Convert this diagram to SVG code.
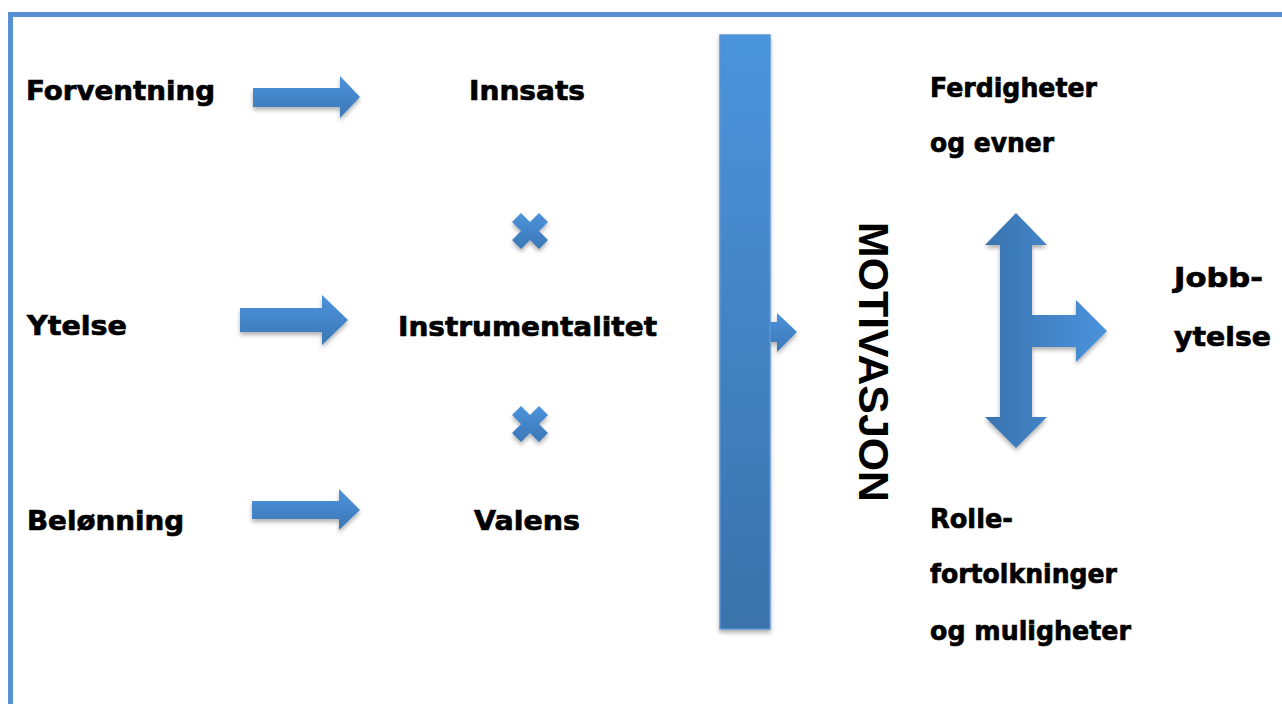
<svg xmlns="http://www.w3.org/2000/svg" width="1282" height="704" viewBox="0 0 1282 704">
<style>
.t{font-family:"DejaVu Sans","Liberation Sans",sans-serif;font-weight:bold;font-size:27px;fill:#000;stroke:#000;stroke-width:0.7px}
.m{font-family:"Liberation Sans",Arial,sans-serif;font-weight:bold;font-size:43px;fill:#000}
.ar{fill:url(#gv)}
</style>
<defs>
<linearGradient id="gv" x1="0" y1="0" x2="0" y2="1">
<stop offset="0" stop-color="#4c93db"/>
<stop offset="1" stop-color="#3b77b6"/>
</linearGradient>
<linearGradient id="gbar" x1="0" y1="0" x2="0" y2="1">
<stop offset="0" stop-color="#4b94dc"/>
<stop offset="1" stop-color="#3a72aa"/>
</linearGradient>
<linearGradient id="gh" x1="0" y1="0" x2="1" y2="0">
<stop offset="0" stop-color="#3a74b0"/>
<stop offset="1" stop-color="#4b93dc"/>
</linearGradient>
<filter id="sh" x="-20%" y="-20%" width="140%" height="140%">
<feDropShadow dx="0" dy="3" stdDeviation="2" flood-color="#000" flood-opacity="0.3"/>
</filter>
</defs>
<rect x="0" y="0" width="1282" height="704" fill="#fff"/>
<g id="border" fill="#5990d5">
<rect x="8" y="12" width="1274" height="5"/>
<rect x="8" y="12" width="5" height="692"/>
</g>
<g id="connectors" filter="url(#sh)">
<path class="ar" d="M253,88 H340 V76 L360,97 L340,118 V107 H253 Z"/>
<path class="ar" d="M240,308 H322 V295 L348,320 L322,345 V332 H240 Z"/>
<path class="ar" d="M252,501 H339 V489 L360,510 L339,530 V519 H252 Z"/>
<path class="ar" d="M521,213 L530,222 L539,213 L548,222 L539,231 L548,240 L539,249 L530,240 L521,249 L512,240 L521,231 L512,222 Z"/>
<path class="ar" d="M521,406 L530,415 L539,406 L548,415 L539,424 L548,433 L539,442 L530,433 L521,442 L512,433 L521,424 L512,415 Z"/>
<path class="ar" d="M765,322 H777 V313 L797,332 L777,352 V342 H765 Z"/>
<rect id="bar" x="720" y="35" width="50" height="594" fill="url(#gbar)" stroke="#5a94d6" stroke-width="1.5"/>
<path fill="url(#gh)" d="M1016,213 L1047,245 H1032 V315 H1076 V300 L1107,331 L1076,362 V347 H1032 V417 H1047 L1016,448 L985,417 H1000 V245 H985 Z"/>
</g>
<g id="n-forventning"><text class="t" x="26" y="100" textLength="189" lengthAdjust="spacingAndGlyphs">Forventning</text></g>
<g id="n-innsats"><text class="t" x="469" y="100" textLength="116" lengthAdjust="spacingAndGlyphs">Innsats</text></g>
<g id="n-ytelse"><text class="t" x="27" y="335" textLength="100" lengthAdjust="spacingAndGlyphs">Ytelse</text></g>
<g id="n-instrumentalitet"><text class="t" x="398" y="336" textLength="259" lengthAdjust="spacingAndGlyphs">Instrumentalitet</text></g>
<g id="n-belonning"><text class="t" x="27" y="530" textLength="157" lengthAdjust="spacingAndGlyphs">Belønning</text></g>
<g id="n-valens"><text class="t" x="474" y="530" textLength="106" lengthAdjust="spacingAndGlyphs">Valens</text></g>
<g id="n-motivasjon"><text class="m" transform="translate(859,222) rotate(90)" x="0" y="0" textLength="280" lengthAdjust="spacingAndGlyphs">MOTIVASJON</text></g>
<g id="n-ferdigheter">
<text class="t" x="930" y="97" textLength="167" lengthAdjust="spacingAndGlyphs">Ferdigheter</text>
<text class="t" x="930" y="152" textLength="124" lengthAdjust="spacingAndGlyphs">og evner</text>
</g>
<g id="n-rolle">
<text class="t" x="930" y="528" textLength="83" lengthAdjust="spacingAndGlyphs">Rolle-</text>
<text class="t" x="930" y="583" textLength="187" lengthAdjust="spacingAndGlyphs">fortolkninger</text>
<text class="t" x="930" y="640" textLength="201" lengthAdjust="spacingAndGlyphs">og muligheter</text>
</g>
<g id="n-jobbytelse">
<text class="t" x="1174" y="287" textLength="89" lengthAdjust="spacingAndGlyphs">Jobb-</text>
<text class="t" x="1174" y="346" textLength="97" lengthAdjust="spacingAndGlyphs">ytelse</text>
</g>
</svg>
